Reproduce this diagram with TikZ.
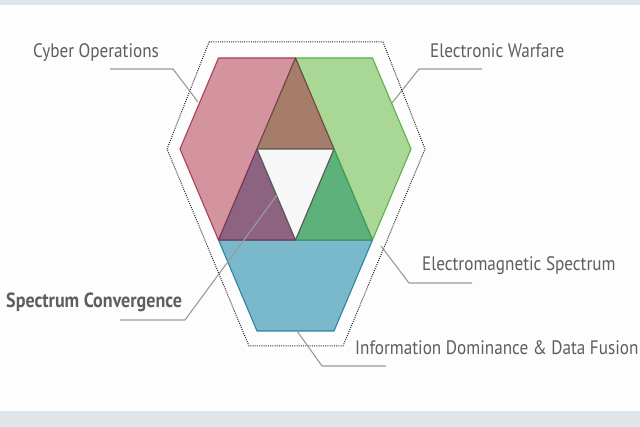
\documentclass[tikz,border=0pt]{standalone}
\usepackage{fontspec}
\setmainfont{PT Sans}[FakeStretch=0.88]
\usetikzlibrary{positioning}
\definecolor{bandgrey}{HTML}{DFE6EA}
\definecolor{pagewhite}{HTML}{FDFDFD}
\definecolor{textgrey}{HTML}{5E5E5E}
\definecolor{leadgrey}{HTML}{9A9A9A}
\definecolor{cyberfill}{HTML}{D4949F}
\definecolor{cyberline}{HTML}{A8415A}
\definecolor{ewfill}{HTML}{A9D795}
\definecolor{ewline}{HTML}{5DB04C}
\definecolor{infofill}{HTML}{7AB8CC}
\definecolor{infoline}{HTML}{2D84A3}
\definecolor{brownfill}{HTML}{A67D6B}
\definecolor{brownline}{HTML}{6E4A3E}
\definecolor{purplefill}{HTML}{8C6482}
\definecolor{purpleline}{HTML}{7A3558}
\definecolor{dgreenfill}{HTML}{5DB17B}
\definecolor{dgreenline}{HTML}{3F9A55}
\tikzset{lbl/.style = {text=textgrey, inner sep=0pt, anchor=base west,
                       font=\fontsize{19.5}{22}\selectfont}}
\tikzset{leader/.style = {draw=leadgrey, line width=1.1pt}}
\tikzset{piece/.style = {line width=1.1pt, line join=round}}
\begin{document}
\begin{tikzpicture}[x=1pt, y=-1pt]
      \useasboundingbox (0,0) rectangle (640,427);
      \fill[pagewhite] (0,0) rectangle (640,427);
      \fill[bandgrey] (0,0) rectangle (640,5);
      \fill[bandgrey] (0,411) rectangle (640,427);
      % dotted frame
      \draw[line width=1pt, dash pattern=on 1pt off 1.2pt, black!85]
        (209,42) -- (383,42) -- (425,149) -- (343,346) -- (249,346)
        -- (167,149) -- cycle;
      % corners of the three hexagons
      \coordinate (ta) at (257,149);
      \coordinate (tb) at (334,149);
      \coordinate (tc) at (295.5,240);
      \coordinate (r1) at (180,149);
      \coordinate (r2) at (218.5,58);
      \coordinate (r3) at (295.5,58);
      \coordinate (r6) at (218.5,240);
      \coordinate (g2) at (372.5,58);
      \coordinate (g3) at (411,149);
      \coordinate (g4) at (372.5,240);
      \coordinate (b4) at (334,331);
      \coordinate (b5) at (257,331);
      \filldraw[piece, fill=cyberfill, draw=cyberline]
        (r1) -- (r2) -- (r3) -- (ta) -- (r6) -- cycle;
      \filldraw[piece, fill=ewfill, draw=ewline]
        (r3) -- (g2) -- (g3) -- (g4) -- (tb) -- cycle;
      \filldraw[piece, fill=infofill, draw=infoline]
        (r6) -- (tc) -- (g4) -- (b4) -- (b5) -- cycle;
      \filldraw[piece, fill=brownfill, draw=brownline] (r3) -- (tb) -- (ta) -- cycle;
      \filldraw[piece, fill=dgreenfill, draw=dgreenline] (tb) -- (g4) -- (tc) -- cycle;
      \filldraw[piece, fill=purplefill, draw=purpleline] (ta) -- (tc) -- (r6) -- cycle;
      \filldraw[piece, fill=white!97!black, draw=black!65] (ta) -- (tb) -- (tc) -- cycle;
      % labels
      \node[lbl] (cyber) at (33,58) {Cyber Operations};
      \node[lbl] (ew) at (430,58) {Electronic Warfare};
      \node[lbl] (ems) at (422,271) {Electromagnetic Spectrum};
      \node[lbl, font=\fontsize{20.5}{22}\selectfont\bfseries] (conv)
        at (6,308) {Spectrum Convergence};
      \node[lbl] (info) at (355,355) {Information Dominance \& Data Fusion};
      % leader lines
      \coordinate (cyber-a) at (110,69);
      \coordinate (cyber-b) at (173,69);
      \coordinate (cyber-c) at (198,102);
      \draw[leader] (cyber-a) -- (cyber-b) -- (cyber-c);
      \coordinate (ew-a) at (482,69);
      \coordinate (ew-b) at (419,69);
      \coordinate (ew-c) at (392,103);
      \draw[leader] (ew-a) -- (ew-b) -- (ew-c);
      \coordinate (ems-a) at (472,283);
      \coordinate (ems-b) at (409,283);
      \coordinate (ems-c) at (381,246);
      \draw[leader] (ems-a) -- (ems-b) -- (ems-c);
      \coordinate (conv-a) at (120,320);
      \coordinate (conv-b) at (185,320);
      \coordinate (conv-c) at (277,195);
      \draw[leader] (conv-a) -- (conv-b) -- (conv-c);
      \coordinate (info-a) at (386,366);
      \coordinate (info-b) at (322,366);
      \coordinate (info-c) at (297,331);
      \draw[leader] (info-a) -- (info-b) -- (info-c);
\end{tikzpicture}
\end{document}
